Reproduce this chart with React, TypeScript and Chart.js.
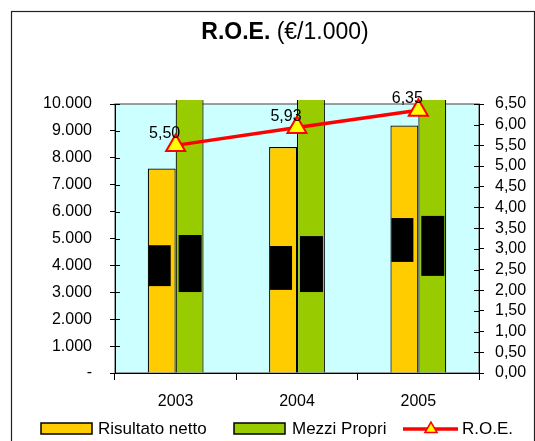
import React, { useEffect, useRef } from "react";
import { Chart, registerables } from "chart.js";

Chart.register(...registerables);

// Values in €/1.000 and R.O.E. in %
const years = ["2003", "2004", "2005"];
const risultatoNetto = [7600, 8400, 9200];
const mezziPropri = [138200, 141650, 144900];
const roe = [5.5, 5.93, 6.35];

// Covered value-label bands on each bar (left-axis units)
const risultatoLabelLow = [3230, 3090, 4130];
const risultatoLabelHigh = [4750, 4720, 5760];
const mezziLabelLow = [3010, 3010, 3610];
const mezziLabelHigh = [5130, 5090, 5840];

const leftMax = 10000;
const leftStep = 1000;
const rightMax = 6.5;
const rightStep = 0.5;

const FONT = "'Liberation Sans', Arial, sans-serif";
const YELLOW = "#FFCC00";
const GREEN = "#99CC00";
const PLOT_BG = "#CCFFFF";
const RED = "#FF0000";
const MARKER = "#FFFF00";

const fmtThousands = (v: number) =>
  v === 0 ? "-" : Math.round(v).toString().replace(/\B(?=(\d{3})+(?!\d))/g, ".");
const fmtDecimal = (v: number) => Number(v).toFixed(2).replace(".", ",");

const decorPlugin = {
  id: "decor",
  beforeDraw(chart: any) {
    const { ctx, chartArea: a, width } = chart;
    ctx.save();
    ctx.fillStyle = "#ffffff";
    ctx.fillRect(0, 0, chart.width, chart.height);
    // outer frame
    ctx.strokeStyle = "#222";
    ctx.lineWidth = 1.2;
    ctx.strokeRect(11.5, 11.5, width - 12, chart.height + 10);
    // title: bold part + normal part
    ctx.textBaseline = "middle";
    ctx.fillStyle = "#000";
    const boldFont = `bold 23px ${FONT}`;
    const normFont = `23px ${FONT}`;
    ctx.font = boldFont;
    const t1 = "R.O.E.";
    const w1 = ctx.measureText(t1).width;
    ctx.font = normFont;
    const t2 = " (€/1.000)";
    const w2 = ctx.measureText(t2).width;
    const x0 = 285 - (w1 + w2) / 2;
    ctx.font = boldFont;
    ctx.textAlign = "left";
    ctx.fillText(t1, x0, 33);
    ctx.font = normFont;
    ctx.fillText(t2, x0 + w1, 33);
    // plot background
    ctx.fillStyle = PLOT_BG;
    ctx.fillRect(a.left, a.top, a.right - a.left, a.bottom - a.top);
    ctx.strokeStyle = "#808080";
    ctx.lineWidth = 1.5;
    ctx.strokeRect(a.left, a.top, a.right - a.left, a.bottom - a.top);
    ctx.restore();
  },
  afterDatasetsDraw(chart: any) {
    const { ctx } = chart;
    const y = chart.scales.y;
    const barsR = chart.getDatasetMeta(1).data;
    const barsM = chart.getDatasetMeta(2).data;
    ctx.save();
    ctx.fillStyle = "#000";
    const boxW = 22;
    barsR.forEach((b: any, i: number) => {
      const top = y.getPixelForValue(risultatoLabelHigh[i]);
      const bot = y.getPixelForValue(risultatoLabelLow[i]);
      ctx.fillRect(b.x - boxW / 2 - 2, top, boxW, bot - top);
    });
    barsM.forEach((b: any, i: number) => {
      const top = y.getPixelForValue(mezziLabelHigh[i]);
      const bot = y.getPixelForValue(mezziLabelLow[i]);
      ctx.fillRect(b.x - boxW / 2, top, boxW + 1, bot - top);
    });
    // R.O.E. value labels
    const pts = chart.getDatasetMeta(0).data;
    ctx.font = `16px ${FONT}`;
    ctx.textAlign = "center";
    ctx.textBaseline = "alphabetic";
    pts.forEach((p: any, i: number) => {
      ctx.fillText(fmtDecimal(roe[i]), p.x - 11, p.y - 7);
    });
    ctx.restore();
  },
  afterDraw(chart: any) {
    const { ctx, chartArea: a } = chart;
    ctx.save();
    // inner half of the crossing tick marks
    ctx.strokeStyle = "#000";
    ctx.lineWidth = 1;
    const yl = chart.scales.y;
    yl.ticks.forEach((t: any) => {
      const py = Math.round(yl.getPixelForValue(t.value)) + 0.5;
      ctx.beginPath();
      ctx.moveTo(a.left, py);
      ctx.lineTo(a.left + 5, py);
      ctx.stroke();
    });
    const yr = chart.scales.y1;
    yr.ticks.forEach((t: any) => {
      const py = Math.round(yr.getPixelForValue(t.value)) + 0.5;
      ctx.beginPath();
      ctx.moveTo(a.right - 5, py);
      ctx.lineTo(a.right, py);
      ctx.stroke();
    });

    // legend
    const ly = 429;
    ctx.font = `17px ${FONT}`;
    ctx.textBaseline = "middle";
    ctx.textAlign = "left";
    ctx.lineWidth = 1.5;
    ctx.fillStyle = YELLOW;
    ctx.fillRect(41, 423, 51, 11);
    ctx.strokeRect(41, 423, 51, 11);
    ctx.fillStyle = "#000";
    ctx.fillText("Risultato netto", 98, ly);
    ctx.fillStyle = GREEN;
    ctx.fillRect(234, 423, 51, 11);
    ctx.strokeRect(234, 423, 51, 11);
    ctx.fillStyle = "#000";
    ctx.fillText("Mezzi Propri", 292, ly);
    ctx.strokeStyle = RED;
    ctx.lineWidth = 3.5;
    ctx.beginPath();
    ctx.moveTo(403, ly);
    ctx.lineTo(458, ly);
    ctx.stroke();
    const r = 7;
    const cx = 431;
    ctx.beginPath();
    ctx.moveTo(cx, ly - r);
    ctx.lineTo(cx + r * 0.866, ly + r / 2);
    ctx.lineTo(cx - r * 0.866, ly + r / 2);
    ctx.closePath();
    ctx.fillStyle = MARKER;
    ctx.fill();
    ctx.lineWidth = 1.5;
    ctx.stroke();
    ctx.fillStyle = "#000";
    ctx.fillText("R.O.E.", 462, ly);
    ctx.restore();
  },
};

export default function App() {
  const ref = useRef<HTMLCanvasElement | null>(null);

  useEffect(() => {
    if (!ref.current) return;
    const chart = new Chart(ref.current, {
      type: "bar",
      data: {
        labels: years,
        datasets: [
          {
            type: "line",
            label: "R.O.E.",
            data: roe,
            yAxisID: "y1",
            borderColor: RED,
            borderWidth: 3.5,
            pointStyle: "triangle",
            pointRadius: 11,
            pointBackgroundColor: MARKER,
            pointBorderColor: RED,
            pointBorderWidth: 2,
            clip: false,
            order: 0,
          } as any,
          {
            type: "bar",
            label: "Risultato netto",
            data: risultatoNetto,
            yAxisID: "y",
            backgroundColor: YELLOW,
            borderColor: "#000",
            borderWidth: 1.2,
            categoryPercentage: 0.46,
            barPercentage: 1,
            order: 1,
          },
          {
            type: "bar",
            label: "Mezzi Propri",
            data: mezziPropri,
            yAxisID: "y",
            backgroundColor: GREEN,
            borderColor: "#000",
            borderWidth: 1.2,
            categoryPercentage: 0.46,
            barPercentage: 1,
            clip: { left: 0, top: 4, right: 0, bottom: 0 },
            order: 1,
          } as any,
        ],
      },
      options: {
        responsive: false,
        animation: false,
        layout: { padding: { top: 104, left: 0, right: 0, bottom: 0 } },
        plugins: {
          legend: { display: false },
          title: { display: false },
          tooltip: { enabled: false },
        },
        scales: {
          x: {
            grid: {
              drawOnChartArea: false,
              color: "#000",
              tickLength: 7,
              offset: true,
            },
            border: { color: "#000", width: 1 },
            ticks: { color: "#000", font: { family: FONT, size: 16 }, padding: 12 },
            afterFit: (s: any) => {
              s.height = 68;
            },
          },
          y: {
            position: "left",
            min: 0,
            max: leftMax,
            grid: { drawOnChartArea: false, color: "#000", tickLength: 5 },
            border: { color: "#000", width: 1 },
            ticks: {
              stepSize: leftStep,
              autoSkip: false,
              color: "#000",
              font: { family: FONT, size: 16 },
              padding: 18,
              callback: (v: any) => fmtThousands(Number(v)),
            },
            afterFit: (s: any) => {
              s.width = 115;
            },
          },
          y1: {
            position: "right",
            min: 0,
            max: rightMax,
            grid: { drawOnChartArea: false, color: "#000", tickLength: 5 },
            border: { color: "#000", width: 1 },
            ticks: {
              stepSize: rightStep,
              autoSkip: false,
              color: "#000",
              font: { family: FONT, size: 16 },
              padding: 11,
              callback: (v: any) => fmtDecimal(Number(v)),
            },
            afterFit: (s: any) => {
              s.width = 56;
            },
          },
        },
      },
      plugins: [decorPlugin],
    });
    return () => chart.destroy();
  }, []);

  return (
    <div style={{ position: "fixed", left: 0, top: 0, width: 535, height: 441, background: "#fff" }}>
      <canvas ref={ref} width={535} height={441} style={{ display: "block" }} />
    </div>
  );
}
